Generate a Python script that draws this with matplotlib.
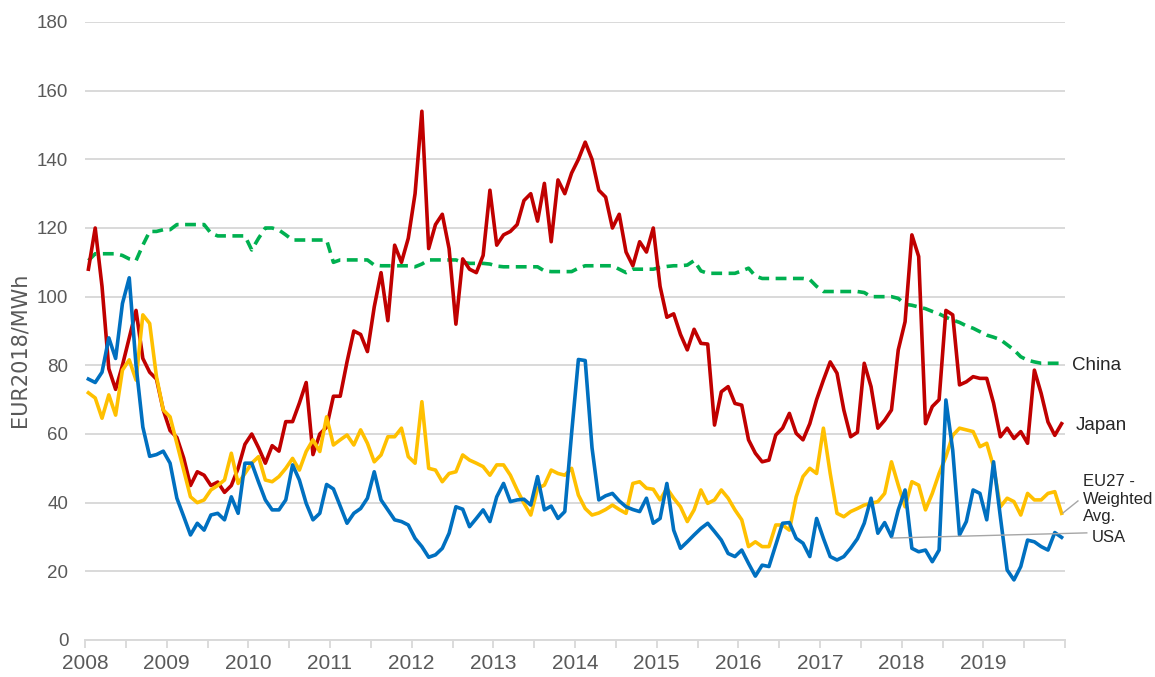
import numpy as np
import matplotlib
matplotlib.use("Agg")
import matplotlib.pyplot as plt
from matplotlib import font_manager

# monthly values, Jan 2008 .. Dec 2019 (EUR2018/MWh)
years = [str(y) for y in range(2008, 2020)]

china = [110.5, 112.5, 112.5, 112.5, 112.5, 112, 111, 110.5, 115, 119, 119, 119.5,
         119.5, 121, 121, 121, 121, 121, 118.5, 117.7, 117.7, 117.7, 117.7, 117.7,
         113.6, 117, 120, 120, 119.4, 118, 116.5, 116.5, 116.5, 116.5, 116.5, 116.5,
         110, 110.7, 110.7, 110.7, 110.7, 110.7, 109.2, 109, 109, 109, 109, 109,
         108.7, 109.5, 110.7, 110.7, 110.7, 110.7, 110.7, 110, 109.7, 109.7, 109.7, 109.5,
         108.9, 108.7, 108.7, 108.7, 108.7, 108.7, 108.7, 107.5, 107.3, 107.3, 107.3, 107.3,
         108.3, 109, 109, 109, 109, 109, 108, 107, 108, 108, 108, 108,
         108.5, 108.8, 109, 109, 109.2, 110.5, 107.5, 106.8, 106.8, 106.8, 106.8, 106.8,
         107.5, 108.3, 106, 105.3, 105.3, 105.3, 105.3, 105.3, 105.3, 105.3, 105, 103,
         101.5, 101.5, 101.5, 101.5, 101.5, 101.5, 101.2, 100, 100, 100, 100, 99.5,
         97.8, 97.5, 97, 96.5, 95.7, 95, 94, 93.2, 92.5, 91.5, 90.8, 89.8,
         88.8, 88.2, 87.5, 86, 84.5, 82.5, 81.5, 81, 80.6, 80.6, 80.6, 80.6]

japan = [108, 120, 103, 79, 73, 80, 88, 96, 82, 78, 76, 67,
         61, 59, 53, 45, 49, 48, 45, 46, 43, 45, 50, 57,
         60, 56, 51.5, 56.6, 55, 63.6, 63.6, 69, 75, 54, 60, 62,
         71, 71, 81, 90, 89, 84, 97, 107, 93, 115, 110, 117,
         130, 154, 114, 121, 124, 114, 92, 111, 108, 107, 112, 131,
         115, 118, 119, 121, 128, 130, 122, 133, 116, 134, 130, 136,
         140, 145, 140, 131, 129, 120, 124, 113, 109, 116, 113, 120,
         103, 94, 95, 89, 84.5, 90.5, 86.4, 86.2, 62.6, 72.3, 73.8, 68.9,
         68.4, 58.3, 54.4, 51.9, 52.4, 59.7, 61.7, 66, 60.2, 58.3, 63, 70,
         75.7, 81, 77.7, 67, 59.2, 60.5, 80.6, 73.8, 61.7, 64, 67, 84.5,
         92.7, 118, 111.7, 63, 68, 70, 96, 94.7, 74.3, 75.2, 76.7, 76.2,
         76.2, 69, 59.2, 61.7, 58.7, 60.7, 57.3, 78.6, 71.8, 63.5, 59.6, 63]

eu27 = [72, 70.5, 64.6, 71.4, 65.5, 78.6, 81.6, 75.7, 94.7, 92.2, 76.7, 67,
        65, 57.3, 49.5, 41.7, 40, 40.8, 43.7, 45, 46.6, 54.4, 45.6, 48.5,
        51.5, 53.4, 46.6, 46.1, 47.6, 50, 52.9, 49.5, 54.9, 58.3, 54.9, 65,
        56.8, 58.3, 59.7, 56.8, 61.2, 57.3, 51.9, 53.9, 59.2, 59.2, 61.7, 53.4,
        51.5, 69.4, 50, 49.5, 46.1, 48.5, 49, 53.9, 52.4, 51.5, 50.5, 48,
        51, 51, 48, 43.7, 39.8, 36.4, 44.2, 45.1, 49.5, 48.5, 48, 50,
        42.2, 38.3, 36.4, 37, 38, 39.3, 38, 36.9, 45.6, 46.1, 44.2, 43.9,
        40.8, 44.2, 41.3, 38.8, 34.5, 37.9, 43.7, 39.8, 40.8, 43.7, 41.3, 37.9,
        35, 27.2, 28.6, 27.2, 27.2, 33.5, 33.5, 32, 41.7, 47.6, 50, 48.5,
        61.7, 48.5, 36.9, 35.9, 37.4, 38.3, 39.3, 39.8, 40.3, 42.7, 51.9, 45.1,
        38.8, 46.1, 45.1, 37.9, 42.7, 48.5, 53.4, 59.6, 61.7, 61.2, 60.7, 56.3,
        57.3, 50.5, 38.8, 41.3, 40.3, 36.4, 42.7, 40.8, 40.8, 42.7, 43.2, 36.9]

usa = [76, 75, 78, 88, 82, 98, 105.5, 80, 62, 53.5, 54, 55,
       51.5, 41.3, 36, 30.6, 34, 32, 36.4, 36.9, 35, 41.7, 36.9, 51.5,
       51.5, 46, 40.8, 37.9, 37.9, 40.8, 51, 46.6, 39.8, 35, 36.9, 45.3,
       44, 39, 34, 36.9, 38.3, 41.3, 49, 40.8, 37.9, 35, 34.5, 33.5,
       29.6, 27.2, 24.1, 24.8, 26.7, 31.1, 38.8, 38.1, 33, 35.4, 37.9, 34.5,
       41.7, 45.6, 40.3, 40.8, 41, 39.3, 47.6, 37.9, 39, 35.4, 37.4, 60.2,
       81.7, 81.4, 56, 40.8, 42, 42.7, 40.5, 38.8, 38, 37.4, 41.3, 34,
       35.4, 45.6, 32, 26.7, 28.6, 30.6, 32.5, 34, 31.6, 29.1, 25.2, 24.3,
       26.2, 22.3, 18.6, 21.8, 21.4, 27.7, 34, 34.2, 29.6, 28.2, 24.3, 35.4,
       29.6, 24.3, 23.3, 24.3, 26.7, 29.5, 34, 41.3, 31.1, 34.2, 30.1, 37.9,
       43.7, 26.7, 25.7, 26.2, 22.8, 26.2, 69.9, 55.3, 30.6, 34.5, 43.7, 42.7,
       35, 51.9, 35.9, 20.4, 17.5, 21.4, 29.1, 28.6, 27.2, 26.2, 31.3, 29.9]

# condensed font for the year labels if installed, else a smaller regular one
names = {f.name for f in font_manager.fontManager.ttflist}
if 'Liberation Sans Narrow' in names:
    year_font, year_size = 'Liberation Sans Narrow', 17
else:
    year_font, year_size = 'Liberation Sans', 15
grey_txt = '#595959'
grid_col = '#d9d9d9'

fig = plt.figure(figsize=(11.55, 6.77), dpi=100)
ax = fig.add_axes([85 / 1155, 37 / 677, 980 / 1155, 618 / 677])

x = np.arange(len(japan)) + 0.5   # points sit mid-month

ax.plot(x, china, color='#00b050', lw=2.6, dashes=(3.0, 1.8), zorder=3)
ax.plot(x, japan, color='#c00000', lw=2.6, zorder=4)
ax.plot(x, eu27, color='#ffc000', lw=2.6, zorder=5)
ax.plot(x, usa, color='#0070c0', lw=2.6, zorder=6)

ax.set_xlim(0, 144)
ax.set_ylim(0, 180)

# y axis
ax.set_yticks(range(0, 181, 20))
ax.yaxis.grid(True, color=grid_col, lw=1.4)
ax.set_axisbelow(True)
ax.tick_params(axis='y', length=0, pad=12, labelsize=13.5, labelcolor=grey_txt)
for lab in ax.get_yticklabels():
    lab.set_family('Liberation Sans')

# x axis: tick every half year, label every January
ticks = list(range(0, 145, 6))
labels = [years[t // 12] if t % 12 == 0 and t < 144 else '' for t in ticks]
ax.set_xticks(ticks)
ax.set_xticklabels(labels, family=year_font, fontsize=year_size, color=grey_txt)
ax.tick_params(axis='x', length=6, width=1.3, color=grid_col, pad=4)

for side in ['top', 'right', 'left']:
    ax.spines[side].set_visible(False)
ax.spines['bottom'].set_color(grid_col)
ax.spines['bottom'].set_linewidth(1.4)

fig.text(20 / 1155, 1 - 350 / 677, 'EUR2018/MWh', rotation=90, ha='center', va='center',
         fontsize=15, color=grey_txt, family='DejaVu Sans')

# end labels
ax.text(145.0, 80, 'China', va='center', ha='left', fontsize=13.5,
        family='Liberation Sans', color='#262626', clip_on=False)
ax.text(145.5, 62.5, 'Japan', va='center', ha='left', fontsize=13.5,
        family='Liberation Sans', color='#262626', clip_on=False)
ax.text(146.6, 41, 'EU27 -\nWeighted\nAvg.', va='center', ha='left', fontsize=12,
        family='Liberation Sans', color='#262626', linespacing=1.2, clip_on=False)
ax.text(148.0, 30, 'USA', va='center', ha='left', fontsize=12,
        family='Liberation Sans', color='#262626', clip_on=False)

# leader lines
ax.plot([143.7, 145.9], [37, 40.5], color='#a6a6a6', lw=1, clip_on=False, zorder=7)
ax.plot([118.6, 147.2], [29.7, 31.2], color='#a6a6a6', lw=1, clip_on=False, zorder=7)

fig.savefig('out.png', dpi=100)
